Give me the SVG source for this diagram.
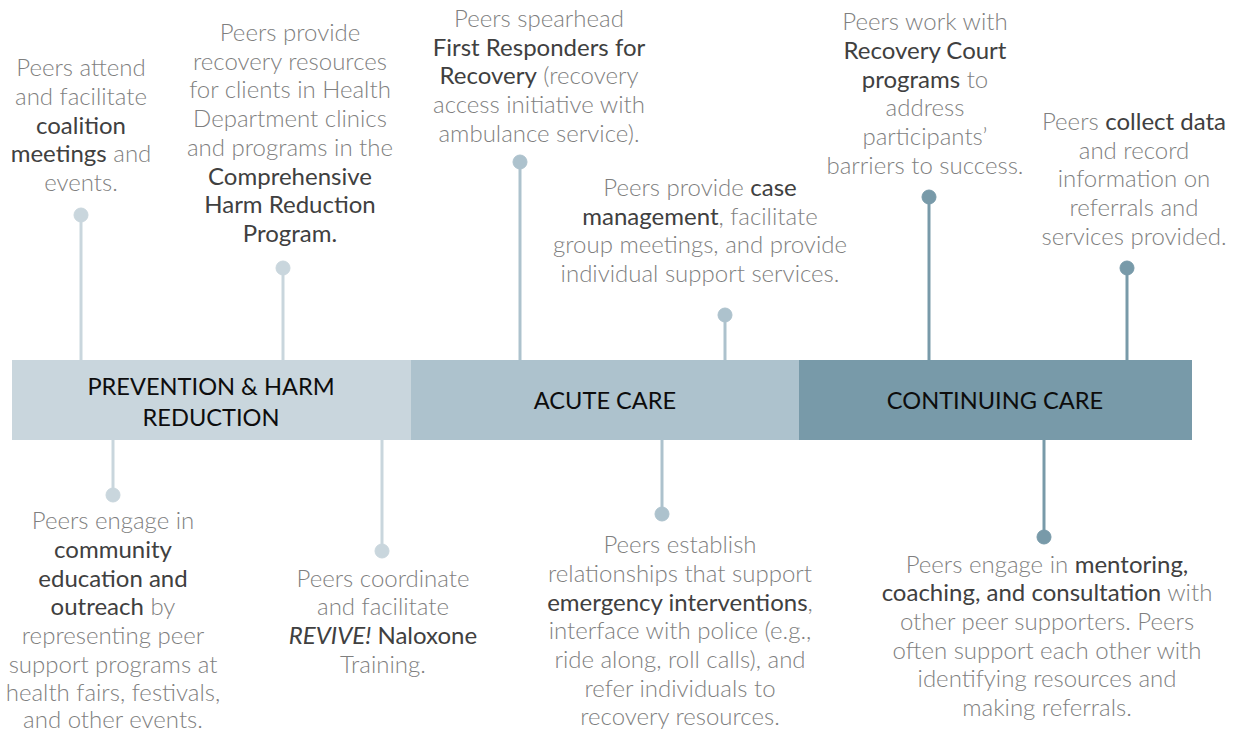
<svg xmlns="http://www.w3.org/2000/svg" width="1238" height="732" viewBox="0 0 1238 732">
<style>
.t{font-family:Lato,"Open Sans",sans-serif;font-size:24px;font-weight:300;fill:#7f7f7f;text-anchor:middle}
.b{font-weight:400;fill:#404040}
.i{font-style:italic;font-weight:400;fill:#404040}
.lbl{font-family:Lato,"Open Sans",sans-serif;font-size:23.6px;font-weight:400;fill:#0d0d0d;text-anchor:middle}
.c1{stroke:#c9d6dd;fill:#c9d6dd}
.c2{stroke:#adc2cd;fill:#adc2cd}
.c3{stroke:#789aa9;fill:#789aa9}
line{stroke-width:3}
circle{stroke:none}
</style>
<rect width="1238" height="732" fill="#fff"/>
<g id="connectors">
<line class="c1" x1="81" y1="215" x2="81" y2="360"/><circle class="c1" cx="81" cy="215" r="7"/>
<line class="c1" x1="283" y1="268" x2="283" y2="360"/><circle class="c1" cx="283" cy="268" r="7"/>
<line class="c2" x1="520" y1="162" x2="520" y2="360"/><circle class="c2" cx="520" cy="162" r="7"/>
<line class="c2" x1="725" y1="315" x2="725" y2="360"/><circle class="c2" cx="725" cy="315" r="7"/>
<line class="c3" x1="929" y1="197" x2="929" y2="360"/><circle class="c3" cx="929" cy="197" r="7"/>
<line class="c3" x1="1127" y1="268" x2="1127" y2="360"/><circle class="c3" cx="1127" cy="268" r="7"/>
<line class="c1" x1="113" y1="440" x2="113" y2="495"/><circle class="c1" cx="113" cy="495" r="7"/>
<line class="c1" x1="382" y1="440" x2="382" y2="551"/><circle class="c1" cx="382" cy="551" r="7"/>
<line class="c2" x1="662" y1="440" x2="662" y2="514"/><circle class="c2" cx="662" cy="514" r="7"/>
<line class="c3" x1="1044" y1="440" x2="1044" y2="537"/><circle class="c3" cx="1044" cy="537" r="7"/>
</g>
<g id="prevention">
<rect x="12" y="360" width="399" height="80" fill="#c9d6dd"/>
<text class="lbl" x="211" y="395">PREVENTION &amp; HARM</text>
<text class="lbl" x="211" y="426">REDUCTION</text>
</g>
<g id="acute">
<rect x="411" y="360" width="388" height="80" fill="#adc2cd"/>
<text class="lbl" x="605" y="409">ACUTE CARE</text>
</g>
<g id="continuing">
<rect x="799" y="360" width="393" height="80" fill="#789aa9"/>
<text class="lbl" x="995" y="409">CONTINUING CARE</text>
</g>
<g id="n-coalition">
<text class="t" x="81" y="76">Peers attend</text>
<text class="t" x="81" y="105">and facilitate</text>
<text class="t" x="81" y="134"><tspan class="b">coalition</tspan></text>
<text class="t" x="81" y="162"><tspan class="b">meetings</tspan> and</text>
<text class="t" x="81" y="191">events.</text>
</g>
<g id="n-harm">
<text class="t" x="290" y="41">Peers provide</text>
<text class="t" x="290" y="70">recovery resources</text>
<text class="t" x="290" y="98">for clients in Health</text>
<text class="t" x="290" y="127">Department clinics</text>
<text class="t" x="290" y="156">and programs in the</text>
<text class="t" x="290" y="185"><tspan class="b">Comprehensive</tspan></text>
<text class="t" x="290" y="213"><tspan class="b">Harm Reduction</tspan></text>
<text class="t" x="290" y="242"><tspan class="b">Program.</tspan></text>
</g>
<g id="n-first">
<text class="t" x="539" y="27">Peers spearhead</text>
<text class="t" x="539" y="56"><tspan class="b">First Responders for</tspan></text>
<text class="t" x="539" y="84"><tspan class="b">Recovery</tspan> (recovery</text>
<text class="t" x="539" y="113">access initiative with</text>
<text class="t" x="539" y="142">ambulance service).</text>
</g>
<g id="n-case">
<text class="t" x="700" y="196">Peers provide <tspan class="b">case</tspan></text>
<text class="t" x="700" y="225"><tspan class="b">management</tspan>, facilitate</text>
<text class="t" x="700" y="253">group meetings, and provide</text>
<text class="t" x="700" y="282">individual support services.</text>
</g>
<g id="n-court">
<text class="t" x="925" y="30">Peers work with</text>
<text class="t" x="925" y="59"><tspan class="b">Recovery Court</tspan></text>
<text class="t" x="925" y="88"><tspan class="b">programs</tspan> to</text>
<text class="t" x="925" y="116">address</text>
<text class="t" x="925" y="145">participants’</text>
<text class="t" x="925" y="174">barriers to success.</text>
</g>
<g id="n-data">
<text class="t" x="1134" y="130">Peers <tspan class="b">collect data</tspan></text>
<text class="t" x="1134" y="159">and record</text>
<text class="t" x="1134" y="187">information on</text>
<text class="t" x="1134" y="216">referrals and</text>
<text class="t" x="1134" y="245">services provided.</text>
</g>
<g id="n-community">
<text class="t" x="113" y="529">Peers engage in</text>
<text class="t" x="113" y="558"><tspan class="b">community</tspan></text>
<text class="t" x="113" y="587"><tspan class="b">education and</tspan></text>
<text class="t" x="113" y="615"><tspan class="b">outreach</tspan> by</text>
<text class="t" x="113" y="644">representing peer</text>
<text class="t" x="113" y="673">support programs at</text>
<text class="t" x="113" y="701">health fairs, festivals,</text>
<text class="t" x="113" y="728">and other events.</text>
</g>
<g id="n-revive">
<text class="t" x="383" y="587">Peers coordinate</text>
<text class="t" x="383" y="615">and facilitate</text>
<text class="t" x="383" y="644"><tspan class="i">REVIVE!</tspan><tspan class="b"> Naloxone</tspan></text>
<text class="t" x="383" y="673">Training.</text>
</g>
<g id="n-emergency">
<text class="t" x="680" y="553">Peers establish</text>
<text class="t" x="680" y="582">relationships that support</text>
<text class="t" x="680" y="611"><tspan class="b">emergency interventions</tspan>,</text>
<text class="t" x="680" y="639">interface with police (e.g.,</text>
<text class="t" x="680" y="668">ride along, roll calls), and</text>
<text class="t" x="680" y="697">refer individuals to</text>
<text class="t" x="680" y="725">recovery resources.</text>
</g>
<g id="n-mentoring">
<text class="t" x="1047" y="573">Peers engage in <tspan class="b">mentoring,</tspan></text>
<text class="t" x="1047" y="601"><tspan class="b">coaching, and consultation</tspan> with</text>
<text class="t" x="1047" y="630">other peer supporters. Peers</text>
<text class="t" x="1047" y="659">often support each other with</text>
<text class="t" x="1047" y="687">identifying resources and</text>
<text class="t" x="1047" y="716">making referrals.</text>
</g>
</svg>
